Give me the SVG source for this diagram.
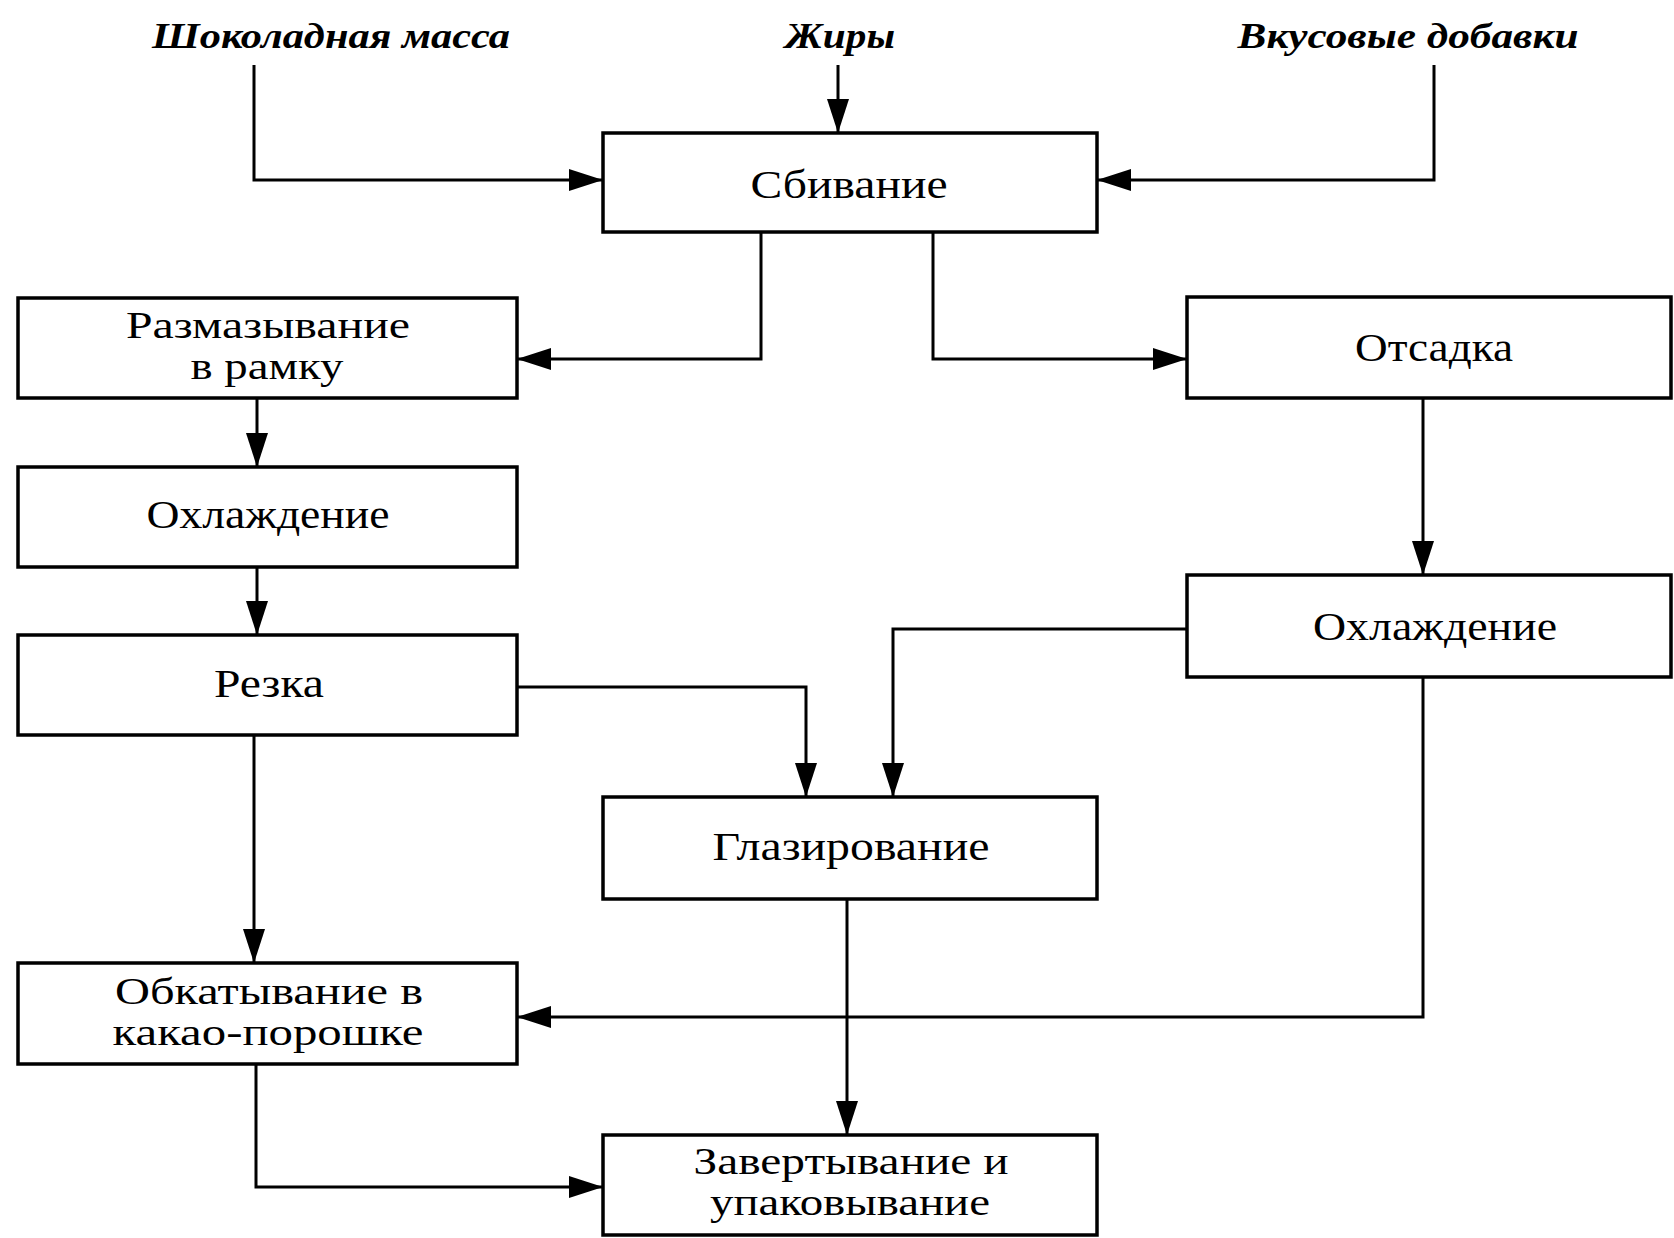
<svg xmlns="http://www.w3.org/2000/svg" width="1674" height="1238" viewBox="0 0 1674 1238">
<style>
.box{fill:#fff;stroke:#000;stroke-width:3.5}
.t{font-family:"Liberation Serif","Times New Roman",serif;font-size:40px;fill:#000;text-anchor:middle}
.t2{font-size:37px}
.lbl{font-family:"Liberation Serif","Times New Roman",serif;font-size:36px;font-style:italic;font-weight:bold;fill:#000;text-anchor:middle}
.c{fill:none;stroke:#000;stroke-width:3}
</style>
<defs>
<marker id="a" markerUnits="userSpaceOnUse" markerWidth="36" markerHeight="22" refX="34" refY="11" orient="auto">
<path d="M0,0 L34,11 L0,22 Z" fill="#000"/>
</marker>
</defs>
<rect width="1674" height="1238" fill="#fff"/>
<g id="labels">
<text class="lbl" x="331" y="48" textLength="358" lengthAdjust="spacingAndGlyphs">Шоколадная масса</text>
<text class="lbl" x="840" y="48" textLength="110" lengthAdjust="spacingAndGlyphs">Жиры</text>
<text class="lbl" x="1408" y="48" textLength="341" lengthAdjust="spacingAndGlyphs">Вкусовые добавки</text>
</g>
<g id="connectors">
<polyline class="c" points="254,65 254,180 603,180" marker-end="url(#a)"/>
<polyline class="c" points="838,65 838,133" marker-end="url(#a)"/>
<polyline class="c" points="1434,65 1434,180 1097,180" marker-end="url(#a)"/>
<polyline class="c" points="761,232 761,359 517,359" marker-end="url(#a)"/>
<polyline class="c" points="933,232 933,359 1187,359" marker-end="url(#a)"/>
<polyline class="c" points="1423,398 1423,575" marker-end="url(#a)"/>
<polyline class="c" points="1187,629 893,629 893,797" marker-end="url(#a)"/>
<polyline class="c" points="1423,677 1423,1017 517,1017" marker-end="url(#a)"/>
<polyline class="c" points="257,398 257,467" marker-end="url(#a)"/>
<polyline class="c" points="257,567 257,635" marker-end="url(#a)"/>
<polyline class="c" points="517,687 806,687 806,797" marker-end="url(#a)"/>
<polyline class="c" points="254,735 254,963" marker-end="url(#a)"/>
<polyline class="c" points="847,899 847,1135" marker-end="url(#a)"/>
<polyline class="c" points="256,1064 256,1187 603,1187" marker-end="url(#a)"/>
</g>
<g id="n-sbivanie">
<rect class="box" x="603" y="133" width="494" height="99"/>
<text class="t" x="849" y="198" textLength="197" lengthAdjust="spacingAndGlyphs">Сбивание</text>
</g>
<g id="n-razmazyvanie">
<rect class="box" x="18" y="298" width="499" height="100"/>
<text class="t t2" x="268" y="338" textLength="284" lengthAdjust="spacingAndGlyphs">Размазывание</text>
<text class="t t2" x="267" y="379" textLength="153" lengthAdjust="spacingAndGlyphs">в рамку</text>
</g>
<g id="n-otsadka">
<rect class="box" x="1187" y="297" width="484" height="101"/>
<text class="t" x="1434" y="361" textLength="158" lengthAdjust="spacingAndGlyphs">Отсадка</text>
</g>
<g id="n-ohl-left">
<rect class="box" x="18" y="467" width="499" height="100"/>
<text class="t" x="268" y="528" textLength="243" lengthAdjust="spacingAndGlyphs">Охлаждение</text>
</g>
<g id="n-ohl-right">
<rect class="box" x="1187" y="575" width="484" height="102"/>
<text class="t" x="1435" y="640" textLength="244" lengthAdjust="spacingAndGlyphs">Охлаждение</text>
</g>
<g id="n-rezka">
<rect class="box" x="18" y="635" width="499" height="100"/>
<text class="t" x="269" y="697" textLength="110" lengthAdjust="spacingAndGlyphs">Резка</text>
</g>
<g id="n-glazirovanie">
<rect class="box" x="603" y="797" width="494" height="102"/>
<text class="t" x="851" y="860" textLength="277" lengthAdjust="spacingAndGlyphs">Глазирование</text>
</g>
<g id="n-obkatyvanie">
<rect class="box" x="18" y="963" width="499" height="101"/>
<text class="t t2" x="269" y="1004" textLength="308" lengthAdjust="spacingAndGlyphs">Обкатывание в</text>
<text class="t t2" x="268" y="1045" textLength="311" lengthAdjust="spacingAndGlyphs">какао-порошке</text>
</g>
<g id="n-zavertyvanie">
<rect class="box" x="603" y="1135" width="494" height="100"/>
<text class="t t2" x="851" y="1174" textLength="315" lengthAdjust="spacingAndGlyphs">Завертывание и</text>
<text class="t t2" x="850" y="1215" textLength="280" lengthAdjust="spacingAndGlyphs">упаковывание</text>
</g>
</svg>
